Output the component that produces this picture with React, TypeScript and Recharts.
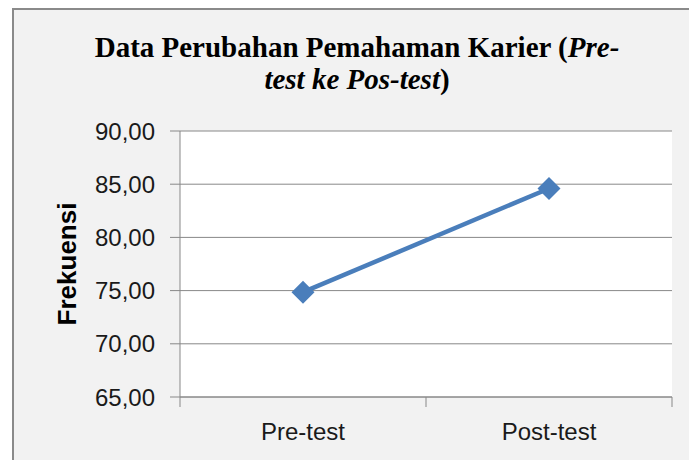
import React from "react";
import { LineChart, Line, XAxis, YAxis, CartesianGrid } from "recharts";

const categories = ["Pre-test", "Post-test"];
const frekuensi = [74.85, 84.6];
const yTicks = [65, 70, 75, 80, 85, 90];
// category centres sit between the boundary ticks (0, 1, 2), like Excel
const xTicks = [0, 0.5, 1, 1.5, 2];

const data = categories.map((name, i) => ({ pos: i + 0.5, name, value: frekuensi[i] }));

const BLUE = "#4a7ebb";
const AXIS = "#888888";

const fmt = (v: number) => v.toFixed(2).replace(".", ",");

function XTick(props: any) {
  const { x, y, payload } = props;
  const v = payload.value as number;
  if (Number.isInteger(v)) {
    return <line x1={x} y1={y - 10} x2={x} y2={y} stroke={AXIS} strokeWidth={1} />;
  }
  return (
    <text x={x} y={y + 33} textAnchor="middle" fill="#1a1a1a" fontSize={24} fontFamily="'Liberation Sans', Arial, sans-serif">
      {categories[Math.floor(v)]}
    </text>
  );
}

function Diamond(props: any) {
  const { cx, cy } = props;
  if (cx == null || cy == null) return null;
  const r = 11.5;
  return <path d={`M${cx},${cy - r}L${cx + r},${cy}L${cx},${cy + r}L${cx - r},${cy}Z`} fill={BLUE} />;
}

export default function App() {
  return (
    <div style={{ position: "fixed", left: 0, top: 0, width: 689, height: 460, overflow: "hidden", background: "#fff" }}>
      <div
        style={{
          position: "absolute",
          left: 12,
          top: 8,
          width: 720,
          height: 480,
          border: "2px solid #8a8a8a",
          background: "#f2f2f2",
        }}
      />
      <div
        style={{
          position: "absolute",
          left: 0,
          top: 31,
          width: 714,
          textAlign: "center",
          fontFamily: "'Liberation Serif', 'Times New Roman', serif",
          fontWeight: "bold",
          fontSize: 29,
          lineHeight: "32px",
          color: "#000",
        }}
      >
        <div>
          Data Perubahan Pemahaman Karier (<i>Pre-</i>
        </div>
        <div>
          <i>test ke Pos-test</i>)
        </div>
      </div>
      <div style={{ position: "absolute", left: 0, top: 0 }}>
        <LineChart width={689} height={460} data={data} margin={{ top: 131, right: 17, bottom: 13, left: 10 }}>
          <CartesianGrid vertical={false} stroke={AXIS} strokeWidth={1} fill="#ffffff" />
          <XAxis
            dataKey="pos"
            type="number"
            domain={[0, 2]}
            ticks={xTicks}
            interval={0}
            height={50}
            tickLine={false}
            tickSize={10}
            tickMargin={0}
            axisLine={{ stroke: AXIS }}
            tick={<XTick />}
          />
          <YAxis
            domain={[65, 90]}
            ticks={yTicks}
            interval={0}
            width={170}
            tickSize={10}
            tickMargin={15}
            tickFormatter={fmt}
            axisLine={{ stroke: AXIS }}
            tickLine={{ stroke: AXIS }}
            tick={{ fill: "#1a1a1a", fontSize: 24, fontFamily: "'Liberation Sans', Arial, sans-serif" }}
            label={{
              value: "Frekuensi",
              angle: -90,
              position: "insideLeft",
              offset: 57,
              style: {
                textAnchor: "middle",
                fontSize: 26,
                fontWeight: "bold",
                fill: "#000",
                fontFamily: "'Liberation Sans', Arial, sans-serif",
              },
            }}
          />
          <Line
            type="linear"
            dataKey="value"
            stroke={BLUE}
            strokeWidth={4.5}
            dot={<Diamond />}
            activeDot={false}
            isAnimationActive={false}
          />
        </LineChart>
      </div>
    </div>
  );
}
